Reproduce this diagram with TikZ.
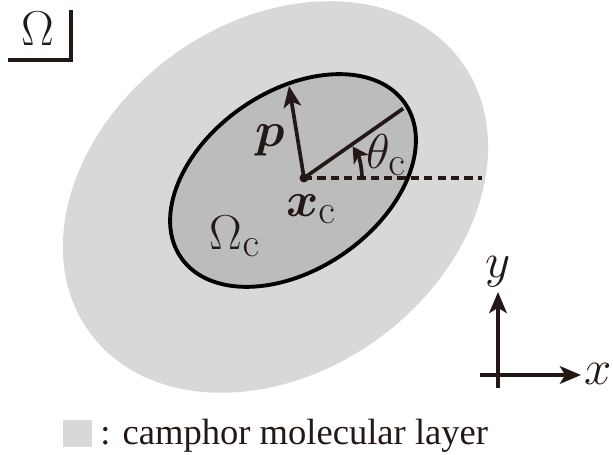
\RequirePackage{fix-cm}
\documentclass[tikz,border=0pt]{standalone}
\usepackage{amsmath,bm}
\usepackage[no-math]{fontspec}
\setmainfont{Liberation Serif}
\usetikzlibrary{arrows.meta,calc}
\definecolor{CamInk}{RGB}{35,24,21}
\definecolor{CamLayer}{RGB}{216,216,216}
\definecolor{CamDrop}{RGB}{188,188,188}
\tikzset{
  cam/layer/.style={fill=CamLayer, draw=none},
  cam/drop/.style={fill=CamDrop, draw=black, line width=2.2pt},
  cam/arrow/.style={-{Stealth[length=12pt,width=10pt,inset=3pt]}, line width=2.1pt, draw=CamInk},
  cam/line/.style={line width=2.1pt, draw=CamInk},
  cam/dash/.style={line width=1.9pt, draw=CamInk, dash pattern=on 4.7pt off 2.9pt},
  cam/angle/.style={-{Stealth[length=9pt,width=10pt,inset=2.5pt]}, line width=2.1pt, draw=CamInk},
  cam/math/.style={font=\fontsize{24.88}{29}\selectfont, scale=1.12, text=CamInk, inner sep=0pt},
  cam/legend/.style={font=\rmfamily\fontsize{20.8}{24}\selectfont, text=CamInk, inner sep=0pt, anchor=base west}
}

\begin{document}
\begin{tikzpicture}[x=1cm,y=1cm]
  \useasboundingbox (0,0) rectangle (12.26,9.10);
  % domain and camphor disk
  \fill[cam/layer, rotate around={36:(5.51,5.16)}] (5.51,5.16) ellipse [x radius=4.60, y radius=3.50];
  \draw[cam/drop, rotate around={34.5:(5.86,5.49)}] (5.86,5.49) ellipse [x radius=2.72, y radius=1.78];
  \coordinate (xc) at (6.08,5.54);
  \coordinate (ptip) at (5.78,7.38);
  \coordinate (axisend) at ($(xc)+(35:2.42)$);
  \coordinate (dashend) at (9.64,5.54);
  \draw[cam/dash] (xc) -- (dashend);
  \draw[cam/line] (xc) -- (axisend);
  \draw[cam/arrow] (xc) -- (ptip);
  \draw[cam/angle] ($(xc)+(0:1.16)$) arc[start angle=0, end angle=33, radius=1.16];
  \fill[CamInk] (xc) circle (0.09);
  \node[cam/math] (theta) at (7.72,6.00) {$\theta_{\mathrm{c}}$};
  \node[cam/math] (xclab) at (6.22,4.92) {$\bm{x}_{\mathrm{c}}$};
  \node[cam/math] (plab) at (5.40,6.30) {$\bm{p}$};
  \node[cam/math] (omc) at (4.70,4.38) {$\Omega_{\mathrm{c}}$};
  % corner label
  \node[cam/math] (om) at (0.76,8.52) {$\Omega$};
  \coordinate (cornerL) at (0.16,7.90);
  \coordinate (cornerC) at (1.42,7.90);
  \coordinate (cornerT) at (1.42,8.90);
  \draw[cam/line, line width=1.9pt] (cornerL) -- (cornerC) -- (cornerT);
  % axes
  \coordinate (origin) at (9.96,1.60);
  \coordinate (xstart) at (9.60,1.60);
  \coordinate (xend) at (11.62,1.60);
  \coordinate (ystart) at (9.96,1.34);
  \coordinate (yend) at (9.96,3.26);
  \draw[cam/arrow] (xstart) -- (xend);
  \draw[cam/arrow] (ystart) -- (yend);
  \node[cam/math] (xlab) at (11.96,1.62) {$x$};
  \node[cam/math] (ylab) at (9.96,3.66) {$y$};
  % legend
  \node[fill=CamLayer, minimum width=0.58cm, minimum height=0.54cm, inner sep=0pt] (key) at (1.55,0.43) {};
  \node[cam/legend] (keytext) at (2.00,0.20) {: camphor molecular layer};
\end{tikzpicture}
\end{document}
